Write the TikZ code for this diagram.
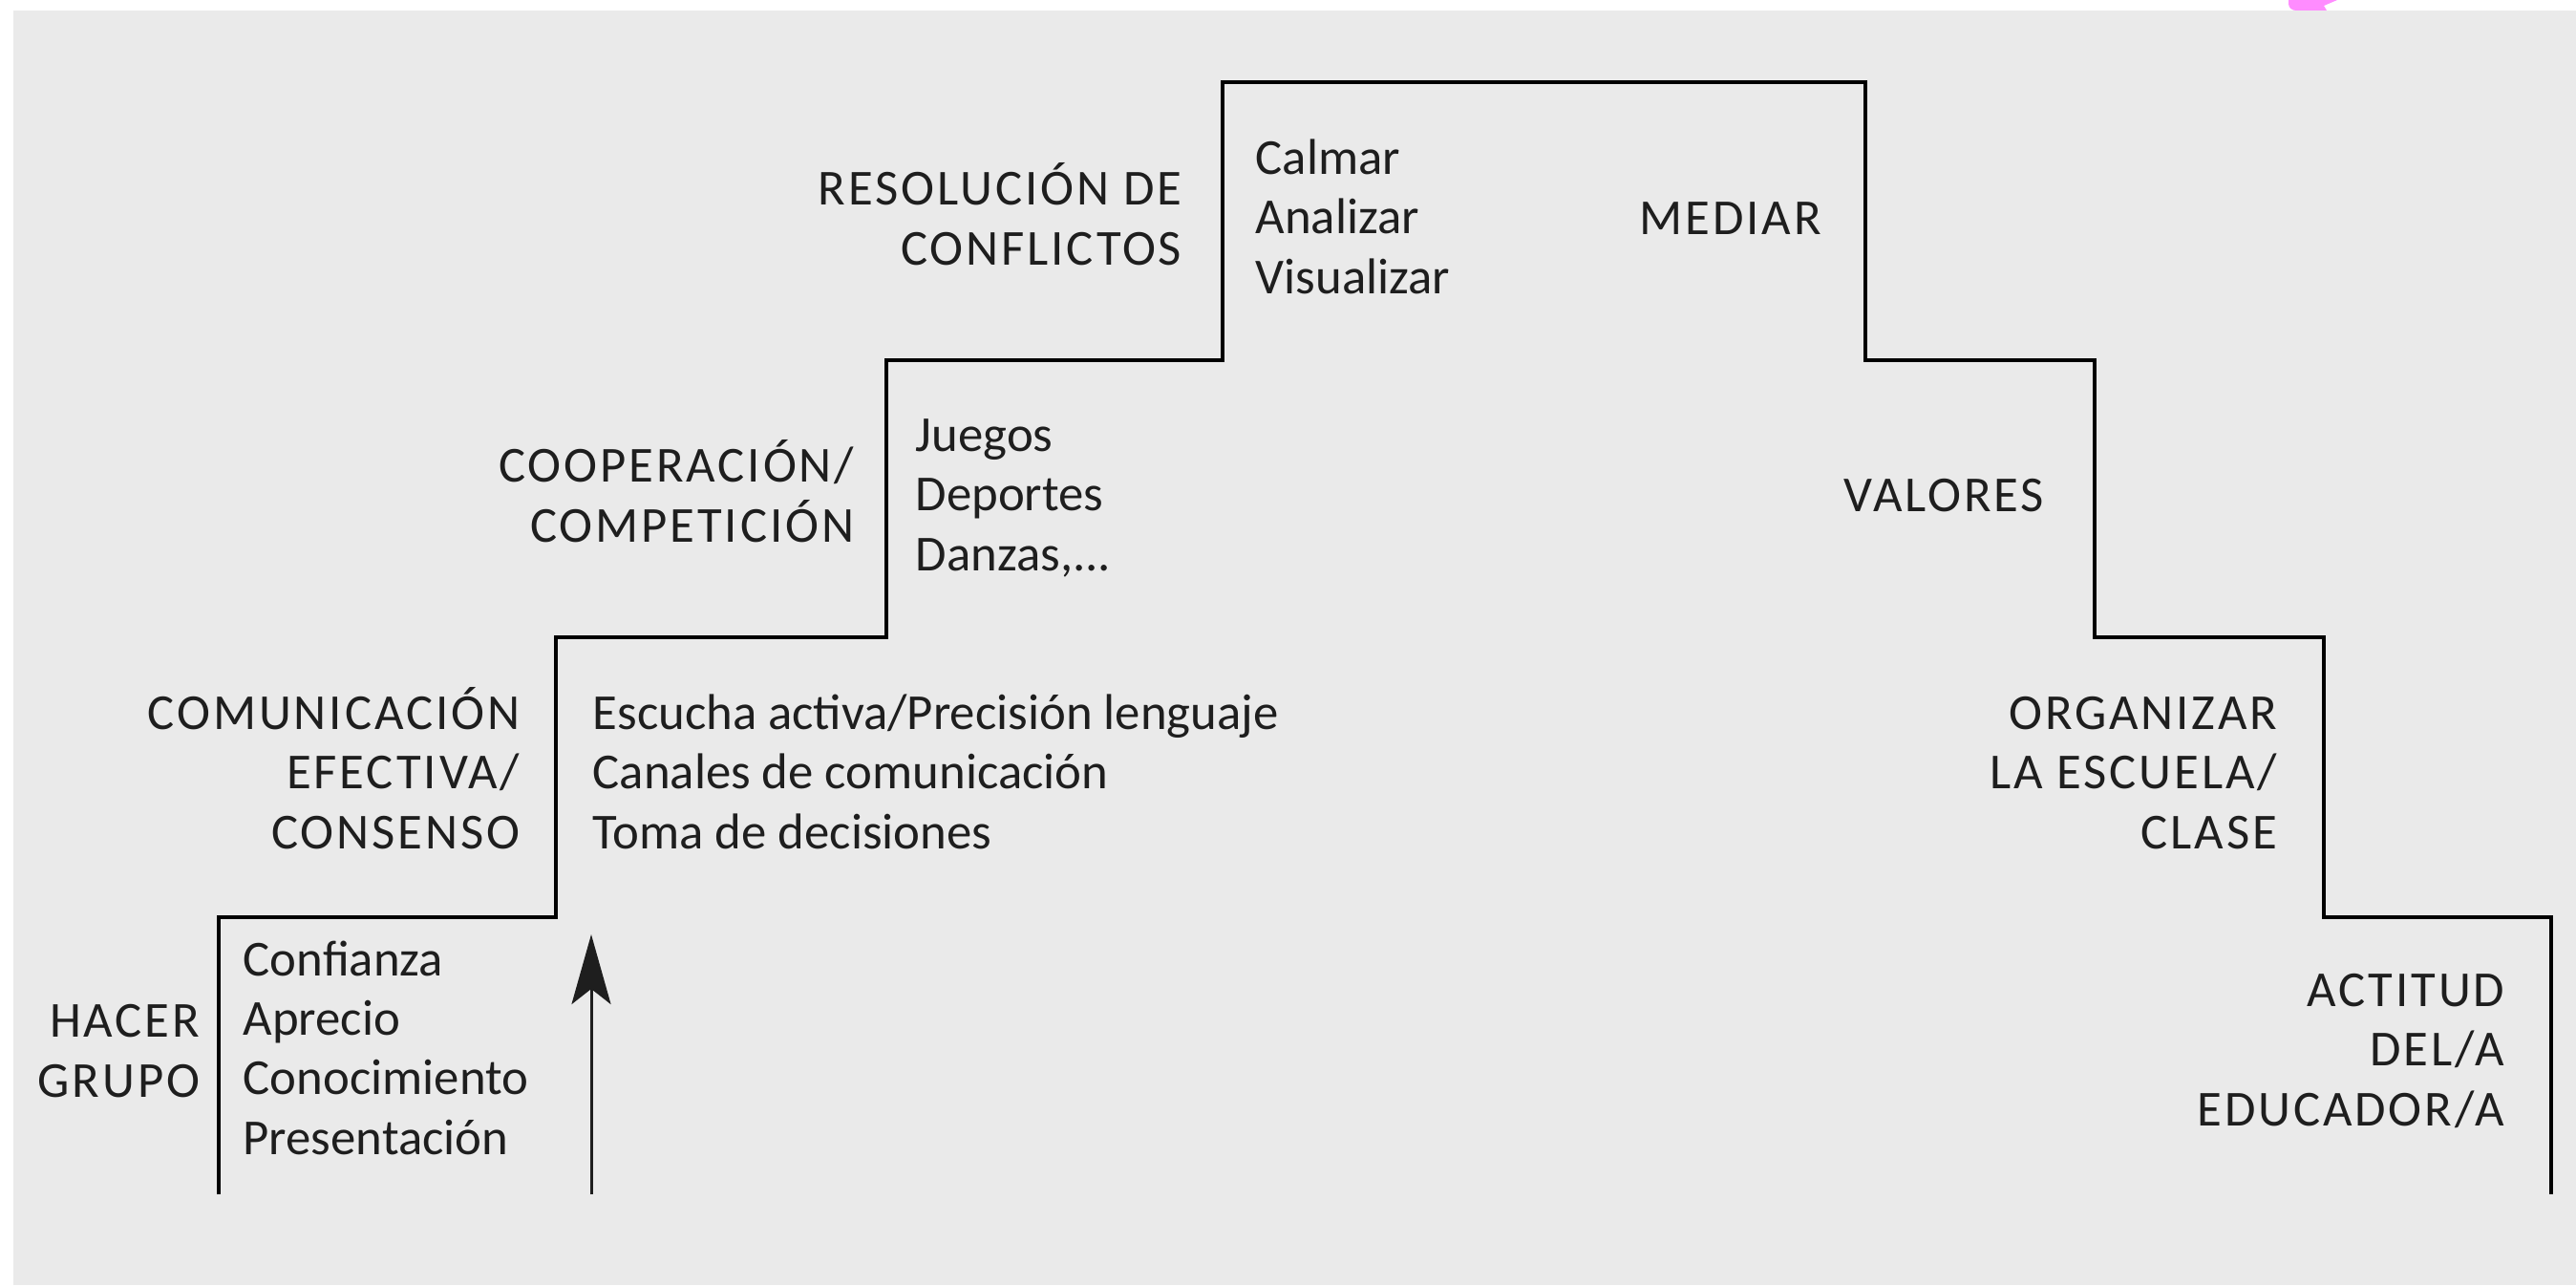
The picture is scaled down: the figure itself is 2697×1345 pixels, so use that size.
\documentclass[tikz,border=0pt]{standalone}
\usepackage{fontspec}
\setmainfont{Carlito}
\newfontfamily\capsfont[LetterSpace=5.5]{Carlito}
\usetikzlibrary{arrows.meta}
\definecolor{bgray}{HTML}{EAEAEA}
\definecolor{ink}{HTML}{1E1E1E}
\definecolor{blob}{HTML}{FF8CFF}
\tikzset{>={Stealth[length=7.3mm,width=4.1mm,inset=1.6mm]}}
\tikzset{
  caps/.style={text=ink, inner sep=0pt, align=right, font=\capsfont\fontsize{15pt}{17.64pt}\selectfont},
  items/.style={text=ink, inner sep=0pt, align=left, font=\fontsize{15pt}{17.64pt}\selectfont}
}

\begin{document}
\begin{tikzpicture}[x=0.01cm, y=-0.01cm]
      \useasboundingbox (0,0) rectangle (2697,1345);
      \fill[white] (0,0) rectangle (2697,1345);
      \fill[blob] (2396,0) -- (2447,0) -- (2433,6) -- (2436,11) -- (2404,11) to[out=180,in=-90] (2396,4) -- cycle;
      \fill[bgray] (14,11) rectangle (2697,1345);
      % the steps
      \draw[line width=1.15pt, black] (229,1250) -- (229,960) -- (582,960) -- (582,667) -- (928,667) -- (928,377) -- (1280,377) -- (1280,86) -- (1953,86) -- (1953,377) -- (2193,377) -- (2193,667) -- (2433,667) -- (2433,960) -- (2671,960) -- (2671,1250);
      % left side (base = last line)
      \node[caps, anchor=base east] (c1) at (210,1148) {HACER\\GRUPO};
      \node[items, anchor=base west] (i1) at (254,1208) {Confianza\\Aprecio\\Conocimiento\\Presentación};
      \node[caps, anchor=base east] (c2) at (545,888) {COMUNICACIÓN\\EFECTIVA/\\CONSENSO};
      \node[items, anchor=base west] (i2) at (620,888) {Escucha activa/Precisión lenguaje\\Canales de comunicación\\Toma de decisiones};
      \node[caps, anchor=base east] (c3) at (895,567) {COOPERACIÓN/\\COMPETICIÓN};
      \node[items, anchor=base west] (i3) at (958,597) {Juegos\\Deportes\\Danzas,...};
      \node[caps, anchor=base east] (c4) at (1238,277) {RESOLUCIÓN DE\\CONFLICTOS};
      \node[items, anchor=base west] (i4) at (1314,307) {Calmar\\Analizar\\Visualizar};
      % right side
      \node[caps, anchor=base west] (c5) at (1716,245) {MEDIAR};
      \node[caps, anchor=base west] (c6) at (1930,535) {VALORES};
      \node[caps, anchor=base east] (c7) at (2385,888) {ORGANIZAR\\LA ESCUELA/\\CLASE};
      \node[caps, anchor=base east] (c8) at (2623,1178) {ACTITUD\\DEL/A\\EDUCADOR/A};
      % arrow
      \coordinate (a0) at (619,1250);
      \coordinate (a1) at (619,978);
      \draw[->, line width=0.85pt, ink] (a0) -- (a1);
    \end{tikzpicture}
\end{document}
